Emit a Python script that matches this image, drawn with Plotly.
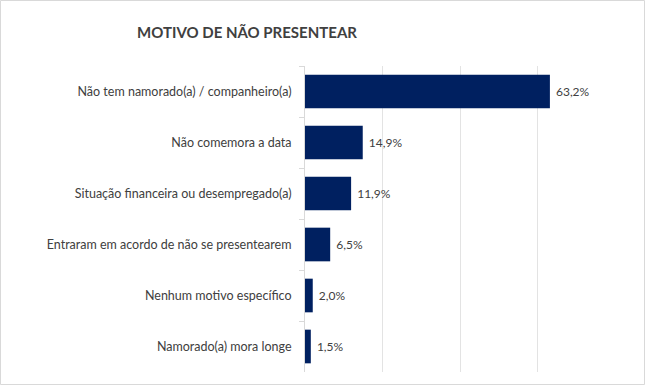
import plotly.graph_objects as go

categories = [
    "Não tem namorado(a) / companheiro(a)",
    "Não comemora a data",
    "Situação financeira ou desempregado(a)",
    "Entraram em acordo de não se presentearem",
    "Nenhum motivo específico",
    "Namorado(a) mora longe",
]
values = [63.2, 14.9, 11.9, 6.5, 2.0, 1.5]
labels = [" " + f"{v:.1f}".replace(".", ",") + "%" for v in values]

W, H = 645, 385
L, R, T, B = 305, 30, 66, 13
pw, ph = W - L - R, H - T - B

fig = go.Figure(go.Bar(
    x=values, y=categories, orientation="h",
    marker=dict(color="#002060", line=dict(width=0)),
    text=labels, textposition="outside",
    textfont=dict(family="Lato", size=12, color="#404040"),
    cliponaxis=False, width=0.66, hoverinfo="skip",
))

fig.update_layout(
    width=W, height=H,
    margin=dict(l=L, r=R, t=T, b=B),
    paper_bgcolor="white", plot_bgcolor="white",
    showlegend=False,
    title=dict(text="<b>MOTIVO DE NÃO PRESENTEAR</b>", x=247 / W, xanchor="center",
               y=1 - 33 / H, yanchor="middle",
               font=dict(family="Lato", size=15, color="#404040")),
    xaxis=dict(range=[0, 80], dtick=20, showgrid=True, gridcolor="#e3e3e3",
               showticklabels=False, zeroline=False, showline=False, ticks=""),
    yaxis=dict(autorange="reversed", showline=True, linecolor="#d9d9d9",
               ticks="outside", tickson="boundaries", ticklen=5, tickcolor="#d9d9d9",
               tickfont=dict(family="Lato", size=12.5, color="#404040"),
               ticklabelstandoff=10),
    shapes=[dict(type="rect", xref="paper", yref="paper",
                 x0=(0.5 - L) / pw, x1=(W - 0.5 - L) / pw,
                 y0=(-B + 0.5) / ph, y1=(H - B - 0.5) / ph,
                 line=dict(color="#d9d9d9", width=1), layer="below")],
)

fig.write_html("out.html", config={"displayModeBar": False})
with open("out.html", encoding="utf-8") as f:
    html = f.read()
html = html.replace("<head>", "<head><style>html,body{margin:0;padding:0;}</style>", 1)
with open("out.html", "w", encoding="utf-8") as f:
    f.write(html)
